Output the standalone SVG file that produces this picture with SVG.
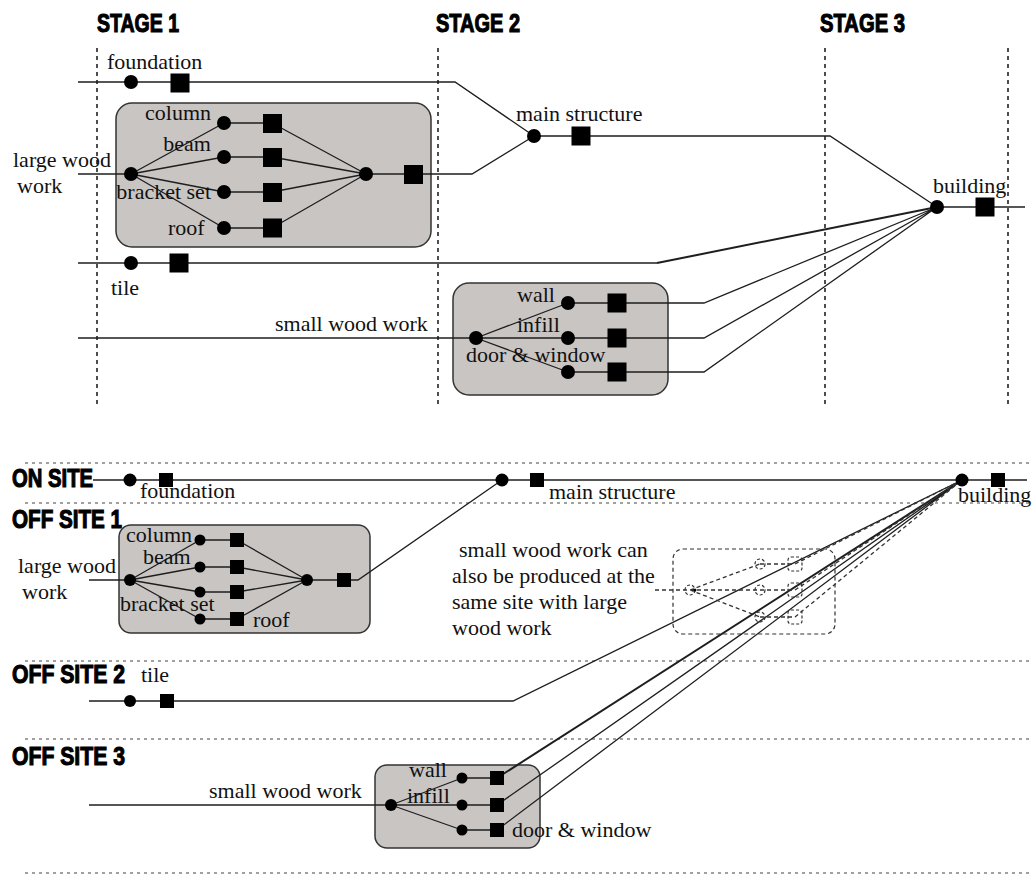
<svg xmlns="http://www.w3.org/2000/svg" xmlns:xlink="http://www.w3.org/1999/xlink" width="1032" height="877" viewBox="0 0 1032 877">
<style>
.bg{fill:#ffffff}
.box{fill:#c9c5c3;stroke:#333;stroke-width:1.5}
.dbox{fill:none;stroke:#333;stroke-width:1.2;stroke-dasharray:4 3}
.ln{fill:none;stroke:#1e1e1e;stroke-width:1.3}
.thk{fill:none;stroke:#1e1e1e;stroke-width:2}
.dln{fill:none;stroke:#333;stroke-width:1.3;stroke-dasharray:4 3}
.vdot{fill:none;stroke:#222;stroke-width:1.6;stroke-dasharray:4 4}
.hdot{fill:none;stroke:#444;stroke-width:1.2;stroke-dasharray:3 4}
.n{fill:#000}
.dn{fill:none;stroke:#333;stroke-width:1.2;stroke-dasharray:3 2}
.t{font-family:"Liberation Serif","Times New Roman",serif;font-size:22px;fill:#111}
.h{font-family:"Liberation Sans Narrow","Liberation Sans","DejaVu Sans Condensed",sans-serif;font-weight:bold;font-size:25px;fill:#000;stroke:#000;stroke-width:1.1}
</style>
<defs>
<rect id="sqL" x="-9.5" y="-9.5" width="19" height="19"/>
<rect id="sqS" x="-7" y="-7" width="14" height="14"/>
</defs>
<rect class="bg" x="0" y="0" width="1032" height="877"/>

<!-- ===== TOP DIAGRAM ===== -->
<g id="stages">
<text class="h" x="97" y="32" textLength="82" lengthAdjust="spacingAndGlyphs">STAGE 1</text>
<text class="h" x="436" y="32" textLength="84" lengthAdjust="spacingAndGlyphs">STAGE 2</text>
<text class="h" x="820" y="32" textLength="85" lengthAdjust="spacingAndGlyphs">STAGE 3</text>
<path class="vdot" d="M97,48V408M438,48V408M825,48V408M1008,48V408"/>
</g>

<g id="top-box-large-wood"><rect class="box" x="116" y="103" width="315" height="144" rx="16"/></g>
<g id="top-box-small-wood"><rect class="box" x="453" y="283" width="215" height="112" rx="16"/></g>

<g id="top-connectors">
<path class="ln" d="M78,82H455L534,136"/>
<path class="ln" d="M78,174H131"/>
<path class="ln" d="M131,174L224,123M131,174L224,157M131,174L224,192M131,174L224,228"/>
<path class="ln" d="M224,123H272M224,157H272M224,192H272M224,228H272"/>
<path class="ln" d="M272,123L366,174M272,157L366,174M272,192L366,174M272,228L366,174"/>
<path class="ln" d="M366,174H472L534,136"/>
<path class="ln" d="M534,136H830L937,207"/>
<path class="ln" d="M937,207H1025"/>
<path class="ln" d="M78,263H657"/>
<path class="thk" d="M657,263L937,207"/>
<path class="ln" d="M78,338H476"/>
<path class="ln" d="M476,338L568,303M476,338H568M476,338L568,372"/>
<path class="ln" d="M568,303H704L937,207M568,338H704L937,207M568,372H704L937,207"/>
</g>

<g id="top-foundation"><circle class="n" cx="131" cy="82" r="7"/><use href="#sqL" x="180" y="83" class="n"/><text class="t" x="107" y="69">foundation</text></g>
<g id="top-large-wood"><circle class="n" cx="131" cy="174" r="7"/><text class="t" x="13" y="167">large wood</text><text class="t" x="17" y="193">work</text></g>
<g id="top-column"><circle class="n" cx="224" cy="123" r="7"/><use href="#sqL" x="272.5" y="123.5" class="n"/><text class="t" x="211" y="120" text-anchor="end">column</text></g>
<g id="top-beam"><circle class="n" cx="224" cy="157" r="7"/><use href="#sqL" x="272.5" y="157.5" class="n"/><text class="t" x="211" y="151" text-anchor="end">beam</text></g>
<g id="top-bracket"><circle class="n" cx="224" cy="192" r="7"/><use href="#sqL" x="272.5" y="192.5" class="n"/><text class="t" x="211" y="199" text-anchor="end">bracket set</text></g>
<g id="top-roof"><circle class="n" cx="224" cy="228" r="7"/><use href="#sqL" x="272.5" y="228" class="n"/><text class="t" x="168" y="235">roof</text></g>
<g id="top-large-wood-out"><circle class="n" cx="366" cy="174" r="7"/><use href="#sqL" x="413.5" y="174.5" class="n"/></g>
<g id="top-main-structure"><circle class="n" cx="534" cy="136" r="7"/><use href="#sqL" x="581" y="136" class="n"/><text class="t" x="516" y="121">main structure</text></g>
<g id="top-building"><circle class="n" cx="937" cy="207" r="7"/><use href="#sqL" x="985" y="207" class="n"/><text class="t" x="933" y="193">building</text></g>
<g id="top-tile"><circle class="n" cx="131" cy="263" r="7"/><use href="#sqL" x="179" y="263" class="n"/><text class="t" x="111" y="295">tile</text></g>
<g id="top-small-wood"><circle class="n" cx="476" cy="338" r="7"/><text class="t" x="275" y="331">small wood work</text></g>
<g id="top-wall"><circle class="n" cx="568" cy="303" r="7"/><use href="#sqL" x="617" y="303" class="n"/><text class="t" x="517" y="302">wall</text></g>
<g id="top-infill"><circle class="n" cx="568" cy="338" r="7"/><use href="#sqL" x="617" y="338" class="n"/><text class="t" x="517" y="332">infill</text></g>
<g id="top-door"><circle class="n" cx="568" cy="372" r="7"/><use href="#sqL" x="617" y="372" class="n"/><text class="t" x="466" y="362">door &amp; window</text></g>

<!-- ===== BOTTOM DIAGRAM ===== -->
<g id="sites">
<path class="hdot" d="M25,463H1032M25,503H1032M25,661H1032M25,739H1032M25,873H1032"/>
<text class="h" x="12" y="487" textLength="81" lengthAdjust="spacingAndGlyphs">ON SITE</text>
<text class="h" x="12" y="528" textLength="110" lengthAdjust="spacingAndGlyphs">OFF SITE 1</text>
<text class="h" x="12" y="683" textLength="113" lengthAdjust="spacingAndGlyphs">OFF SITE 2</text>
<text class="h" x="12" y="765" textLength="113" lengthAdjust="spacingAndGlyphs">OFF SITE 3</text>
</g>

<g id="bot-box-large-wood"><rect class="box" x="119" y="525" width="251" height="108" rx="12"/></g>
<g id="bot-box-small-wood"><rect class="box" x="375" y="765" width="165" height="83" rx="12"/></g>
<g id="bot-box-alt"><rect class="dbox" x="673" y="549" width="162" height="85" rx="10"/></g>

<g id="bot-connectors">
<path class="ln" d="M93,480H1027"/>
<path class="ln" d="M89,580H130"/>
<path class="ln" d="M130,580L200,540M130,580L200,567M130,580L200,592M130,580L200,619"/>
<path class="ln" d="M200,540H237M200,567H237M200,592H237M200,619H237"/>
<path class="ln" d="M237,540L307,580M237,567L307,580M237,592L307,580M237,619L307,580"/>
<path class="ln" d="M307,580H358L502,480"/>
<path class="ln" d="M89,701H513L962,480"/>
<path class="ln" d="M89,805H391"/>
<path class="ln" d="M391,805L462,778M391,805H462M391,805L462,830"/>
<path class="ln" d="M462,778H497M462,805H497M462,830H497"/>
<path class="thk" d="M497,778L962,480"/>
<path class="ln" d="M497,805L962,480M497,830L962,480"/>
<path class="dln" d="M655,590H690M690,590L760,564M690,590H760M690,590L760,617M760,564H795M760,590H795M760,617H795"/>
<path class="dln" d="M795,564L962,480M795,590L962,480M795,617L962,480"/>
</g>

<g id="bot-foundation"><circle class="n" cx="130" cy="480" r="6.5"/><use href="#sqS" x="166" y="480" class="n"/><text class="t" x="140" y="498">foundation</text></g>
<g id="bot-main-structure"><circle class="n" cx="502" cy="480" r="6.5"/><use href="#sqS" x="537" y="480" class="n"/><text class="t" x="549" y="499">main structure</text></g>
<g id="bot-building"><circle class="n" cx="962" cy="480" r="6.5"/><use href="#sqS" x="998" y="480" class="n"/><text class="t" x="958" y="502">building</text></g>
<g id="bot-large-wood"><circle class="n" cx="130" cy="580" r="6"/><text class="t" x="18" y="573">large wood</text><text class="t" x="22" y="599">work</text></g>
<g id="bot-column"><circle class="n" cx="200" cy="540" r="5.5"/><use href="#sqS" x="237" y="540" class="n"/><text class="t" x="126" y="542">column</text></g>
<g id="bot-beam"><circle class="n" cx="200" cy="567" r="5.5"/><use href="#sqS" x="237" y="567" class="n"/><text class="t" x="143" y="564">beam</text></g>
<g id="bot-bracket"><circle class="n" cx="200" cy="592" r="5.5"/><use href="#sqS" x="237" y="592" class="n"/><text class="t" x="120" y="611">bracket set</text></g>
<g id="bot-roof"><circle class="n" cx="200" cy="619" r="5.5"/><use href="#sqS" x="237" y="619" class="n"/><text class="t" x="253" y="627">roof</text></g>
<g id="bot-large-wood-out"><circle class="n" cx="307" cy="580" r="6"/><use href="#sqS" x="344" y="580" class="n"/></g>
<g id="bot-tile"><circle class="n" cx="130" cy="701" r="6"/><use href="#sqS" x="167" y="701" class="n"/><text class="t" x="141" y="682">tile</text></g>
<g id="bot-small-wood"><circle class="n" cx="391" cy="805" r="6"/><text class="t" x="209" y="798">small wood work</text></g>
<g id="bot-wall"><circle class="n" cx="462" cy="778" r="5.5"/><use href="#sqS" x="497" y="778" class="n"/><text class="t" x="409" y="777">wall</text></g>
<g id="bot-infill"><circle class="n" cx="462" cy="805" r="5.5"/><use href="#sqS" x="497" y="805" class="n"/><text class="t" x="407" y="803">infill</text></g>
<g id="bot-door"><circle class="n" cx="462" cy="830" r="5.5"/><use href="#sqS" x="497" y="830" class="n"/><text class="t" x="512" y="837">door &amp; window</text></g>

<g id="bot-alt-nodes">
<circle class="dn" cx="690" cy="590" r="5"/><circle class="n" cx="695" cy="590" r="1.5"/>
<circle class="dn" cx="760" cy="564" r="5"/>
<circle class="dn" cx="760" cy="590" r="5"/>
<circle class="dn" cx="760" cy="617" r="5"/>
<rect class="dn" x="788" y="557" width="14" height="14" rx="3"/>
<rect class="dn" x="788" y="583" width="14" height="14" rx="3"/>
<rect class="dn" x="788" y="610" width="14" height="14" rx="3"/>
</g>

<g id="note">
<text class="t" x="459" y="557">small wood work can</text>
<text class="t" x="452" y="583">also be produced at the</text>
<text class="t" x="452" y="609">same site with large</text>
<text class="t" x="452" y="635">wood work</text>
</g>
</svg>
